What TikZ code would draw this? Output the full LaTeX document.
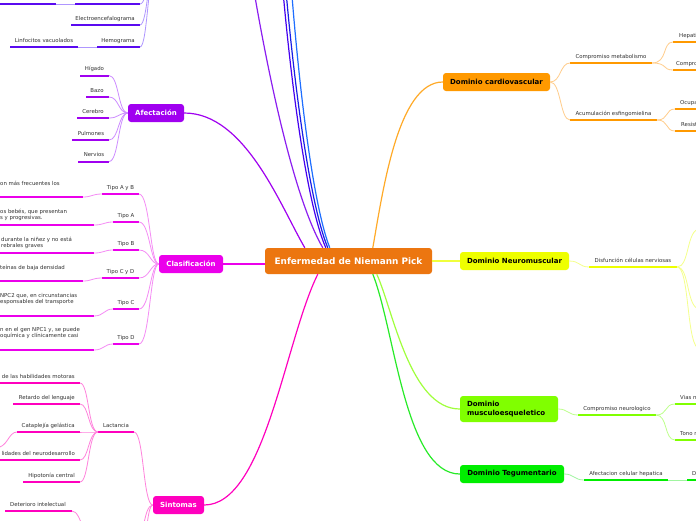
\documentclass[tikz,border=0pt]{standalone}
\usepackage{fontspec}
\setmainfont{DejaVu Sans}
\definecolor{mainor}{RGB}{236,118,16}
\definecolor{cAfe}{RGB}{160,0,240}
\definecolor{lAfe}{RGB}{205,140,255}
\definecolor{cCla}{RGB}{235,0,235}
\definecolor{lCla}{RGB}{245,140,245}
\definecolor{cSin}{RGB}{255,0,190}
\definecolor{lSin}{RGB}{255,130,220}
\definecolor{cInd}{RGB}{90,10,240}
\definecolor{lInd}{RGB}{175,150,255}
\definecolor{cViolet}{RGB}{140,30,240}
\definecolor{cBlueA}{RGB}{70,0,240}
\definecolor{cBlueB}{RGB}{25,30,230}
\definecolor{cBlueC}{RGB}{30,110,255}
\definecolor{cDC}{RGB}{255,153,0}
\definecolor{mDC}{RGB}{255,170,40}
\definecolor{lDC}{RGB}{255,205,140}
\definecolor{cDN}{RGB}{238,255,0}
\definecolor{mDN}{RGB}{240,255,60}
\definecolor{lDN}{RGB}{245,255,140}
\definecolor{cDM}{RGB}{128,255,0}
\definecolor{mDM}{RGB}{160,255,60}
\definecolor{lDM}{RGB}{190,255,140}
\definecolor{cDT}{RGB}{0,238,0}
\definecolor{mDT}{RGB}{40,235,40}
\definecolor{lDT}{RGB}{160,245,160}
\definecolor{txtgray}{RGB}{50,50,50}
\tikzset{
  mainbox/.style={rounded corners=3pt, fill=mainor, text=white, font=\fontsize{8.9}{10}\selectfont\bfseries, minimum width=167pt, minimum height=26pt, inner sep=0pt},
  l1/.style={rounded corners=3pt, font=\fontsize{7}{8.5}\selectfont\bfseries, minimum height=18pt, inner sep=0pt},
  bar/.style={fill=#1, minimum height=2pt, inner sep=0pt, outer sep=0pt},
  txt/.style={font=\fontsize{5.4}{6}\selectfont, text=txtgray, inner sep=0pt},
  conn/.style={draw=#1, line width=0.8pt},
  mline/.style={draw=#1, line width=1.2pt},
}
\begin{document}
\begin{tikzpicture}[x=1pt,y=-1pt]
\useasboundingbox (0,0) rectangle (696,520);
\fill[white] (0,0) rectangle (696,520);
\clip (0,0) rectangle (696,520);

% ---------- main and level 1 ----------
\node[mainbox] (main) at (348.5,261) {Enfermedad de Niemann Pick};
\node[l1, fill=cAfe, text=white, minimum width=56pt] (afe) at (156,113) {Afectación};
\node[l1, fill=cCla, text=white, minimum width=64pt] (cla) at (191,264) {Clasificación};
\node[l1, fill=cSin, text=white, minimum width=51pt] (sin) at (178.5,505) {Sintomas};
\node[l1, fill=cDC, minimum width=107pt] (dc) at (496.5,82) {Dominio cardiovascular};
\node[l1, fill=cDN, minimum width=109pt] (dn) at (514.5,261) {Dominio Neuromuscular};
\node[l1, fill=cDM, minimum width=98pt, minimum height=26pt, align=left, text width=84pt] (dm) at (509,409) {Dominio\\musculoesqueletico};
\node[l1, fill=cDT, minimum width=104pt] (dt) at (512,474) {Dominio Tegumentario};

\coordinate (upA) at (248,-45);
\coordinate (upB) at (280,-45);
\coordinate (upC) at (283,-45);
\coordinate (upD) at (289,-45);

\draw[mline=cViolet] ([xshift=58pt]main.north west) .. controls (295,200) and (268,80) .. (upA);
\draw[mline=cBlueA] ([xshift=61pt]main.north west) .. controls (305,200) and (288,60) .. (upB);
\draw[mline=cBlueB] ([xshift=63pt]main.north west) .. controls (308,200) and (291,60) .. (upC);
\draw[mline=cBlueC] ([xshift=65pt]main.north west) .. controls (311,200) and (296,60) .. (upD);
\draw[mline=mDC] ([xshift=108pt]main.north west) .. controls (383,190) and (398,82) .. (dc.west);
\draw[mline=cAfe] ([xshift=40pt]main.north west) .. controls (280,205) and (245,113) .. (afe.east);
\draw[mline=cCla] (cla.east) -- (cla.east -| main.west);
\draw[mline=cSin] ([xshift=53pt]main.south west) .. controls (285,340) and (265,505) .. (sin.east);
\draw[mline=mDN] (main.east |- dn.west) -- (dn.west);
\draw[mline=mDM] ([xshift=112pt]main.south west) .. controls (393,310) and (410,409) .. (dm.west);
\draw[mline=mDT] ([xshift=108pt]main.south west) .. controls (395,330) and (405,474) .. (dt.west);

% ---------- top-left indigo branch ----------
\coordinate (indpar) at (158,-40);
\node[bar=cInd, minimum width=66pt] (t1a) at (23,4) {};
\node[bar=cInd, minimum width=65pt] (t1b) at (107.5,4) {};
\node[bar=cInd, minimum width=69pt] (eeg) at (105.5,25) {};
\node[txt, anchor=base] (eegt) at (105,20) {Electroencefalograma};
\node[bar=cInd, minimum width=43pt] (hem) at (118.5,47) {};
\node[txt, anchor=base] (hemt) at (118,42) {Hemograma};
\node[bar=cInd, minimum width=68pt] (lin) at (44,47) {};
\node[txt, anchor=base] (lint) at (44,42) {Linfocitos vacuolados};
\draw[conn=lInd] (t1a.east) -- (t1b.west);
\draw[conn=lInd] (lin.east) -- (hem.west);
\draw[conn=lInd] (t1b.east) .. controls (148,4) and (148,-40) .. (indpar);
\draw[conn=lInd] (eeg.east) .. controls (148,25) and (148,-40) .. (indpar);
\draw[conn=lInd] (hem.east) .. controls (148,47) and (148,-40) .. (indpar);

% ---------- Afectación ----------
\node[bar=cAfe, minimum width=29pt] (hig) at (94.5,75.5) {};
\node[txt, anchor=base] (higt) at (94.5,70.5) {Hígado};
\node[bar=cAfe, minimum width=23pt] (baz) at (97.5,97) {};
\node[txt, anchor=base] (bazt) at (97,92) {Bazo};
\node[bar=cAfe, minimum width=32pt] (cer) at (93,118) {};
\node[txt, anchor=base] (cert) at (93,113) {Cerebro};
\node[bar=cAfe, minimum width=37pt] (pul) at (90.5,140) {};
\node[txt, anchor=base] (pult) at (91,135) {Pulmones};
\node[bar=cAfe, minimum width=31pt] (ner) at (93.5,161.5) {};
\node[txt, anchor=base] (nert) at (94,156.5) {Nervios};
\foreach \n/\y in {hig/75.5, baz/97, cer/118, pul/140, ner/161.5}
  \draw[conn=lAfe] (\n.east) .. controls (119,\y) and (118,113) .. (afe.west);

% ---------- Clasificación ----------
\node[bar=cCla, minimum width=37pt] (tab) at (120.5,194) {};
\node[txt, anchor=base] (tabt) at (120.5,189) {Tipo A y B};
\node[bar=cCla, minimum width=26pt] (ta) at (126,222) {};
\node[txt, anchor=base] (tat) at (126,217) {Tipo A};
\node[bar=cCla, minimum width=26pt] (tb) at (126,250) {};
\node[txt, anchor=base] (tbt) at (126,245) {Tipo B};
\node[bar=cCla, minimum width=37pt] (tcd) at (120.5,278) {};
\node[txt, anchor=base] (tcdt) at (120.5,273) {Tipo C y D};
\node[bar=cCla, minimum width=26pt] (tc) at (126,309) {};
\node[txt, anchor=base] (tct) at (126,304) {Tipo C};
\node[bar=cCla, minimum width=26pt] (td) at (126,344) {};
\node[txt, anchor=base] (tdt) at (126,339) {Tipo D};
\foreach \n/\y in {tab/194, ta/222, tb/250, tcd/278, tc/309, td/344}
  \draw[conn=lCla] (\n.east) .. controls (150,\y) and (150,264) .. (cla.west);

\node[bar=cCla, minimum width=93pt] (dab) at (36.5,197) {};
\node[bar=cCla, minimum width=104pt] (da) at (42,225) {};
\node[bar=cCla, minimum width=104pt] (db) at (42,253) {};
\node[bar=cCla, minimum width=93pt] (dcd) at (36.5,281) {};
\node[bar=cCla, minimum width=104pt] (dcc) at (42,316) {};
\node[bar=cCla, minimum width=104pt] (dd) at (42,350) {};
\draw[conn=lCla] (dab.east) .. controls (92,197) and (92,194) .. (tab.west);
\draw[conn=lCla] (da.east) .. controls (104,225) and (104,222) .. (ta.west);
\draw[conn=lCla] (db.east) .. controls (104,253) and (104,250) .. (tb.west);
\draw[conn=lCla] (dcd.east) .. controls (92,281) and (92,278) .. (tcd.west);
\draw[conn=lCla] (dcc.east) .. controls (104,316) and (104,309) .. (tc.west);
\draw[conn=lCla] (dd.east) .. controls (104,350) and (104,344) .. (td.west);
\node[txt, anchor=base west] (dabt) at (0,185.5) {on más frecuentes los};
\node[txt, anchor=base west] (dat1) at (0,213.5) {os bebés, que presentan};
\node[txt, anchor=base west] (dat2) at (0,219.5) {s y progresivas.};
\node[txt, anchor=base west] (dbt1) at (1,241.5) {durante la niñez y no está};
\node[txt, anchor=base west] (dbt2) at (1,247.5) {rebrales graves};
\node[txt, anchor=base west] (dcdt) at (0,269.5) {teínas de baja densidad};
\node[txt, anchor=base west] (dct1) at (0,297.5) {NPC2 que, en circunstancias};
\node[txt, anchor=base west] (dct2) at (0,303.5) {esponsables del transporte};
\node[txt, anchor=base west] (ddt1) at (0,331.5) {n en el gen NPC1 y, se puede};
\node[txt, anchor=base west] (ddt2) at (0,337.5) {oquímica y clínicamente casi};

% ---------- Sintomas ----------
\node[bar=cSin, minimum width=36pt] (lac) at (116,432) {};
\node[txt, anchor=base] (lact) at (116,427) {Lactancia};
\draw[conn=lSin] (lac.east) .. controls (144,432) and (143,505) .. (sin.west);
\node[bar=cSin, minimum width=90pt] (hm) at (35,383) {};
\node[txt, anchor=base east] (hmt) at (75,378) {de las habilidades motoras};
\node[bar=cSin, minimum width=67pt] (rl) at (46.5,404) {};
\node[txt, anchor=base east] (rlt) at (75,399) {Retardo del lenguaje};
\node[bar=cSin, minimum width=63pt] (cg) at (48.5,432) {};
\node[txt, anchor=base east] (cgt) at (75,427) {Cataplejía gelástica};
\node[bar=cSin, minimum width=90pt] (nd) at (35,460) {};
\node[txt, anchor=base east] (ndt) at (75,455) {lidades del neurodesarrollo};
\node[bar=cSin, minimum width=57pt] (hc) at (51.5,482) {};
\node[txt, anchor=base east] (hct) at (75,477) {Hipotonía central};
\foreach \n/\y in {hm/383, rl/404, cg/432, nd/460, hc/482}
  \draw[conn=lSin] (lac.west) .. controls (88,432) and (89,\y) .. (\n.east);
\coordinate (cgc) at (-5,448);
\draw[conn=lSin] (cg.west) .. controls (8,432) and (8,448) .. (cgc);
\node[bar=cSin, minimum width=67pt] (di) at (38.5,511) {};
\node[txt, anchor=base] (dit) at (38,506) {Deterioro intelectual};
\coordinate (x1e) at (135,545);
\coordinate (x1w) at (95,545);
\coordinate (x2e) at (135,600);
\draw[conn=lSin] (sin.west) .. controls (143,505) and (144,545) .. (x1e);
\draw[conn=lSin] (sin.west) .. controls (144,505) and (145,600) .. (x2e);
\draw[conn=lSin] (di.east) .. controls (82,511) and (84,545) .. (x1w);

% ---------- Dominio cardiovascular ----------
\node[bar=cDC, minimum width=82pt] (cm) at (611,63) {};
\node[txt, anchor=base] (cmt) at (611,58) {Compromiso metabolismo};
\node[bar=cDC, minimum width=87pt] (ae) at (613.5,120) {};
\node[txt, anchor=base] (aet) at (613.5,115) {Acumulación esfingomielina};
\draw[conn=lDC] (dc.east) .. controls (561,82) and (560,63) .. (cm.west);
\draw[conn=lDC] (dc.east) .. controls (561,82) and (560,120) .. (ae.west);
\node[bar=cDC, minimum width=27pt] (hep) at (686.5,42) {};
\node[txt, anchor=base west] (hept) at (679,37) {Hepati};
\node[bar=cDC, minimum width=27pt] (cpr) at (686.5,70) {};
\node[txt, anchor=base west] (cprt) at (676,65) {Compro};
\node[bar=cDC, minimum width=25pt] (ocu) at (687.5,109) {};
\node[txt, anchor=base west] (ocut) at (680,104) {Ocupa};
\node[bar=cDC, minimum width=25pt] (res) at (687.5,131) {};
\node[txt, anchor=base west] (rest) at (681,126) {Resist};
\draw[conn=lDC] (cm.east) .. controls (668,63) and (662,42) .. (hep.west);
\draw[conn=lDC] (cm.east) .. controls (668,63) and (662,70) .. (cpr.west);
\draw[conn=lDC] (ae.east) .. controls (669,120) and (665,109) .. (ocu.west);
\draw[conn=lDC] (ae.east) .. controls (669,120) and (665,131) .. (res.west);

% ---------- Dominio Neuromuscular ----------
\node[bar=cDN, minimum width=88pt] (dcn) at (633,267) {};
\node[txt, anchor=base] (dcnt) at (633,262) {Disfunción células nerviosas};
\draw[conn=lDN] (dn.east) .. controls (580,261) and (579,267) .. (dcn.west);
\coordinate (n1) at (700,229);
\coordinate (n2) at (700,309);
\coordinate (n3) at (700,349);
\draw[conn=lDN] (dcn.east) .. controls (690,267) and (686,229) .. (n1);
\draw[conn=lDN] (dcn.east) .. controls (690,267) and (686,309) .. (n2);
\draw[conn=lDN] (dcn.east) .. controls (690,267) and (686,349) .. (n3);

% ---------- Dominio musculoesqueletico ----------
\node[bar=cDM, minimum width=78pt] (cn) at (617,415) {};
\node[txt, anchor=base] (cnt) at (617,410) {Compromiso neurologico};
\draw[conn=lDM] (dm.east) .. controls (568,409) and (568,415) .. (cn.west);
\node[bar=cDM, minimum width=25pt] (vias) at (687.5,404) {};
\node[txt, anchor=base west] (viast) at (680,399) {Vias n};
\node[bar=cDM, minimum width=25pt] (tono) at (687.5,440) {};
\node[txt, anchor=base west] (tonot) at (680,435) {Tono m};
\draw[conn=lDM] (cn.east) .. controls (668,415) and (664,404) .. (vias.west);
\draw[conn=lDM] (cn.east) .. controls (668,415) and (664,440) .. (tono.west);

% ---------- Dominio Tegumentario ----------
\node[bar=cDT, minimum width=84pt] (ach) at (626,480) {};
\node[txt, anchor=base] (acht) at (626,475) {Afectacion celular hepatica};
\draw[conn=lDT] (dt.east) .. controls (574,474) and (574,480) .. (ach.west);
\node[bar=cDT, minimum width=13pt] (dx) at (693.5,480) {};
\node[txt, anchor=base west] (dxt) at (692,475) {D};
\draw[conn=lDT] (ach.east) -- (dx.west);
\end{tikzpicture}
\end{document}
